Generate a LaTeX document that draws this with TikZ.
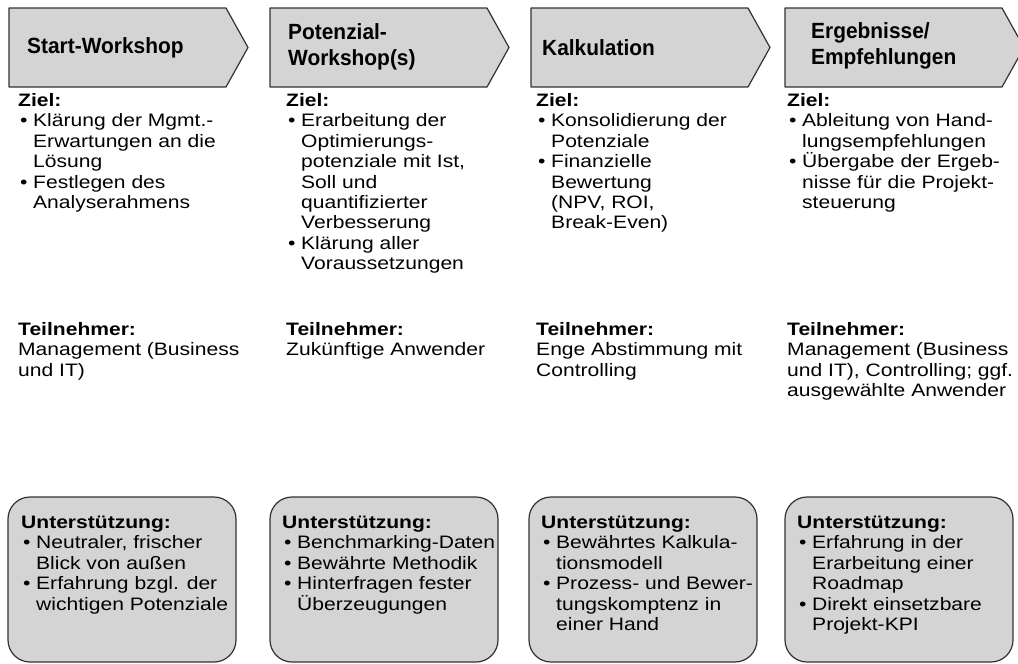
\documentclass[tikz,border=0pt]{standalone}
\usepackage{fontspec}
\setmainfont{Liberation Sans}[FakeStretch=1.17]
\newfontfamily\headfont{Liberation Sans}[FakeStretch=0.95]
\definecolor{phasegray}{RGB}{212,212,212}
\definecolor{linegray}{RGB}{50,50,50}
% bullet line with hanging indent
\newcommand{\bul}[1]{\par{\leftskip=15pt\noindent\hspace*{-15pt}\makebox[15pt][l]{\hspace{2pt}\textbullet}#1\par}}
% text block: bold title, then content
\newcommand{\blk}[2]{\parbox[t]{235pt}{\raggedright\textbf{#1}\par #2}}
\tikzset{
  phase/.style={draw=linegray,fill=phasegray,line width=1.2pt,line join=round},
  phasetext/.style={anchor=west,align=left,inner sep=0pt,font=\headfont\fontsize{22}{26}\selectfont\bfseries},
  txt/.style={anchor=base west,inner sep=0pt,font=\fontsize{18}{20.4}\selectfont},
  support/.style={draw=linegray,fill=phasegray,line width=1.2pt,rounded corners=22pt}
}
\begin{document}
\begin{tikzpicture}[x=1pt,y=-1pt]
	\useasboundingbox (0,0) rectangle (1018,664);
	% phase arrows and support boxes
	\foreach \x/\b in {9/8,270/270,531/529,785/785}{
		\draw[phase] (\x,8)--++(217,0)--++(22,39.5)--++(-22,39.5)--++(-217,0)--cycle;
		\draw[support] (\b,497) rectangle ++(228,165);
	}
	\node[phasetext] (p1) at (27,47.5) {Start-Workshop};
	\node[phasetext] (p2) at (288,46.5) {Potenzial-\\Workshop(s)};
	\node[phasetext] (p3) at (542,47.5) {Kalkulation};
	\node[phasetext] (p4) at (811,45.5) {Ergebnisse/\\Empfehlungen};
	% Ziel
	\node[txt] (z1) at (18,106.5) {\blk{Ziel:}{\bul{Klärung der Mgmt.-\\Erwartungen an die\\Lösung}\bul{Festlegen des\\Analyserahmens}}};
	\node[txt] (z2) at (286,106.5) {\blk{Ziel:}{\bul{Erarbeitung der\\Optimierungs-\\potenziale mit Ist,\\Soll und\\quantifizierter\\Verbesserung}\bul{Klärung aller\\Voraussetzungen}}};
	\node[txt] (z3) at (536,106.5) {\blk{Ziel:}{\bul{Konsolidierung der\\Potenziale}\bul{Finanzielle\\Bewertung\\(NPV, ROI,\\Break-Even)}}};
	\node[txt] (z4) at (787,106.5) {\blk{Ziel:}{\bul{Ableitung von Hand-\\lungsempfehlungen}\bul{Übergabe der Ergeb-\\nisse für die Projekt-\\steuerung}}};
	% Teilnehmer
	\node[txt] (t1) at (18,335.5) {\blk{Teilnehmer:}{Management (Business\\und IT)}};
	\node[txt] (t2) at (286,335.5) {\blk{Teilnehmer:}{Zukünftige Anwender}};
	\node[txt] (t3) at (536,335.5) {\blk{Teilnehmer:}{Enge Abstimmung mit\\Controlling}};
	\node[txt] (t4) at (787,335.5) {\blk{Teilnehmer:}{Management (Business\\und IT), Controlling; ggf.\\ausgewählte Anwender}};
	% Unterstuetzung
	\node[txt] (u1) at (21,528.5) {\blk{Unterstützung:}{\bul{Neutraler, frischer\\Blick von außen}\bul{Erfahrung bzgl. der\\wichtigen Potenziale}}};
	\node[txt] (u2) at (282,528.5) {\blk{Unterstützung:}{\bul{Benchmarking-Daten}\bul{Bewährte Methodik}\bul{Hinterfragen fester\\Überzeugungen}}};
	\node[txt] (u3) at (541,528.5) {\blk{Unterstützung:}{\bul{Bewährtes Kalkula-\\tionsmodell}\bul{Prozess- und Bewer-\\tungskomptenz in\\einer Hand}}};
	\node[txt] (u4) at (797,528.5) {\blk{Unterstützung:}{\bul{Erfahrung in der\\Erarbeitung einer\\Roadmap}\bul{Direkt einsetzbare\\Projekt-KPI}}};
\end{tikzpicture}
\end{document}
